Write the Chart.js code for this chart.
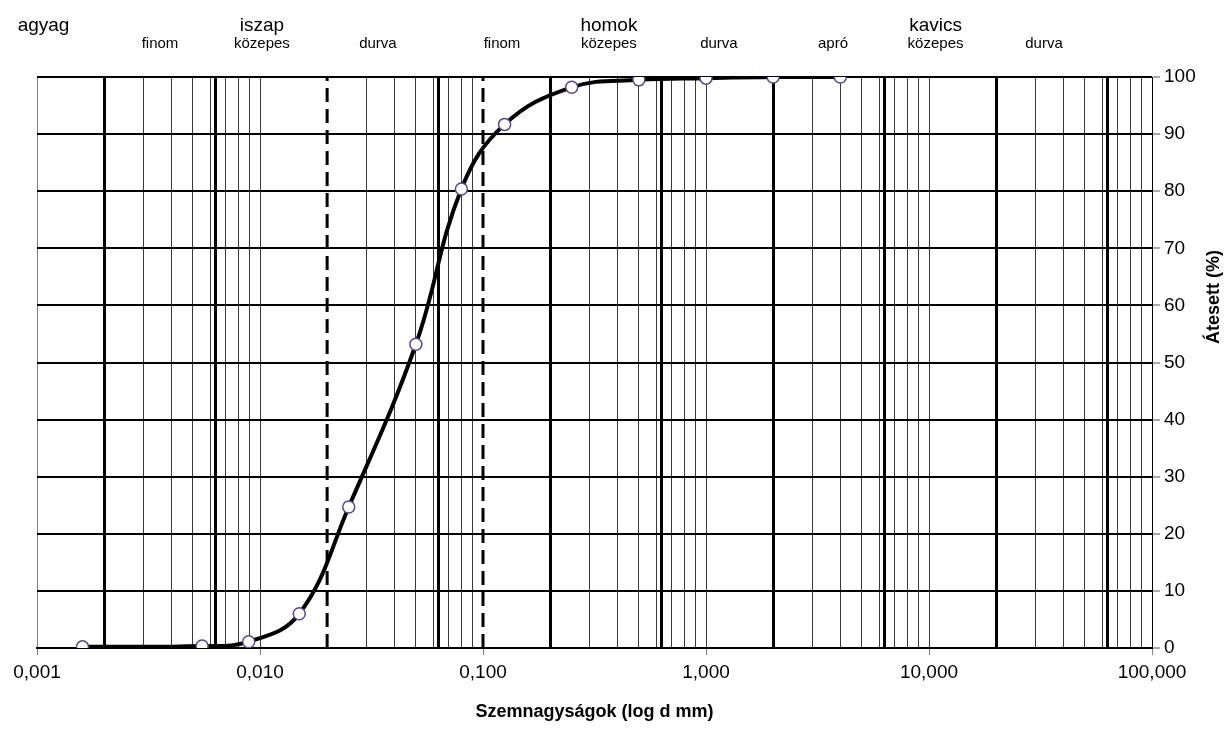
<!DOCTYPE html>
<html>
<head>
<meta charset="utf-8">
<script src="https://cdn.jsdelivr.net/npm/chart.js@4.4.1/dist/chart.umd.min.js"></script>
<style>
  html, body { margin: 0; padding: 0; background: #ffffff; }
  #wrap { width: 1226px; height: 735px; }
</style>
</head>
<body>
<div id="wrap"><canvas id="grainChart"></canvas></div>
<script>
const grainSizes = [0.0016, 0.0055, 0.0089, 0.015, 0.025, 0.05, 0.08, 0.125, 0.25, 0.5, 1, 2, 4];
const passingPercent = [0.2, 0.35, 1.1, 6.0, 24.7, 53.2, 80.4, 91.7, 98.2, 99.5, 99.8, 100, 100];

const boundarySizes = [0.002, 0.0063, 0.063, 0.2, 0.63, 2, 6.3, 20, 63];
const dashedSizes = [0.02, 0.1];
const decadeTicks = [0.001, 0.01, 0.1, 1, 10, 100];
const percentTicks = [0, 10, 20, 30, 40, 50, 60, 70, 80, 90, 100];

const mainGroups = ["agyag", "iszap", "homok", "kavics"];
const mainGroupAt = [0.00107, 0.0102, 0.367, 10.7];
const subGroups = ["finom", "közepes", "durva", "finom", "közepes", "durva", "apró", "közepes", "durva"];
const subGroupAt = [0.00356, 0.0102, 0.0338, 0.1217, 0.367, 1.143, 3.71, 10.7, 32.8];

const xTitle = "Szemnagyságok (log d mm)";
const yTitle = "Átesett (%)";

const FONT = "'Liberation Sans', Arial, sans-serif";

function sameValue(a, b) {
  return Math.abs(a - b) / b < 1e-6;
}

function inList(list, value) {
  return list.some(item => sameValue(item, value));
}

// every vertical grid value: 1..9 per decade plus the soil boundaries
function buildGridValues() {
  const values = [];
  for (let k = -3; k <= 1; k++) {
    for (let m = 1; m <= 9; m++) {
      values.push(Number((m * Math.pow(10, k)).toPrecision(3)));
    }
  }
  values.push(100);
  boundarySizes.forEach(v => values.push(v));
  return values.sort((a, b) => a - b);
}

const gridValues = buildGridValues();

function formatTick(value) {
  return value.toFixed(3).replace(".", ",");
}

function dashedDataset(size) {
  return {
    label: "határ " + size,
    data: [{ x: size, y: 0 }, { x: size, y: 100 }],
    borderColor: "#000000",
    borderWidth: 3,
    borderDash: [14, 7],
    pointRadius: 0,
    tension: 0,
    order: 2
  };
}

const labelPlugin = {
  id: "soilLabels",
  afterDraw(chart) {
    const ctx = chart.ctx;
    const x = chart.scales.x;
    const area = chart.chartArea;

    ctx.save();
    ctx.fillStyle = "#000000";
    ctx.textAlign = "center";
    ctx.textBaseline = "middle";

    ctx.font = "19px " + FONT;
    mainGroups.forEach((text, i) => {
      ctx.fillText(text, x.getPixelForValue(mainGroupAt[i]), 26);
    });

    ctx.font = "15px " + FONT;
    subGroups.forEach((text, i) => {
      ctx.fillText(text, x.getPixelForValue(subGroupAt[i]), 44);
    });

    ctx.font = "bold 18px " + FONT;
    ctx.fillText(xTitle, (area.left + area.right) / 2, 712);

    ctx.translate(1214, 297);
    ctx.rotate(-Math.PI / 2);
    ctx.fillText(yTitle, 0, 0);
    ctx.restore();
  }
};

new Chart(document.getElementById("grainChart"), {
  type: "line",
  data: {
    datasets: [
      {
        label: "Átesett",
        data: grainSizes.map((size, i) => ({ x: size, y: passingPercent[i] })),
        borderColor: "#000000",
        borderWidth: 4,
        tension: 0.4,
        pointRadius: 6,
        pointBorderWidth: 1.5,
        pointBackgroundColor: "#ffffff",
        pointBorderColor: "#5b4690",
        order: 0
      },
      ...dashedSizes.map(dashedDataset)
    ]
  },
  options: {
    responsive: true,
    maintainAspectRatio: false,
    animation: false,
    layout: {
      padding: { left: 37, top: 77, right: 0, bottom: 0 }
    },
    plugins: {
      legend: { display: false },
      tooltip: { enabled: false }
    },
    scales: {
      x: {
        type: "logarithmic",
        min: 0.001,
        max: 100,
        afterBuildTicks: scale => {
          scale.ticks = gridValues.map(value => ({ value }));
        },
        afterFit: scale => {
          scale.height = 87;
        },
        ticks: {
          autoSkip: false,
          maxRotation: 0,
          padding: 6,
          color: "#000000",
          font: { family: FONT, size: 19 },
          callback: value => (inList(decadeTicks, value) ? formatTick(value) : "")
        },
        grid: {
          color: ctx => {
            const v = ctx.tick.value;
            if (inList(dashedSizes, v)) return "rgba(0,0,0,0)";
            if (inList(boundarySizes, v)) return "#000000";
            if (sameValue(v, 100)) return "#000000";
            if (sameValue(v, 0.001)) return "#808080";
            return "#3a3a3a";
          },
          lineWidth: ctx => (inList(boundarySizes, ctx.tick.value) ? 3 : 1),
          tickColor: ctx => (inList(decadeTicks, ctx.tick.value) ? "#808080" : "rgba(0,0,0,0)"),
          tickWidth: 1,
          tickLength: 7
        },
        border: { color: "#000000", width: 2 }
      },
      y: {
        position: "right",
        min: 0,
        max: 100,
        afterBuildTicks: scale => {
          scale.ticks = percentTicks.map(value => ({ value }));
        },
        afterFit: scale => {
          scale.width = 74;
        },
        ticks: {
          padding: 4,
          color: "#000000",
          font: { family: FONT, size: 19 }
        },
        grid: {
          color: "#000000",
          lineWidth: 2,
          tickColor: "#555555",
          tickWidth: 1,
          tickLength: 8
        },
        border: { color: "#000000", width: 1 }
      }
    }
  },
  plugins: [labelPlugin]
});
</script>
</body>
</html>
